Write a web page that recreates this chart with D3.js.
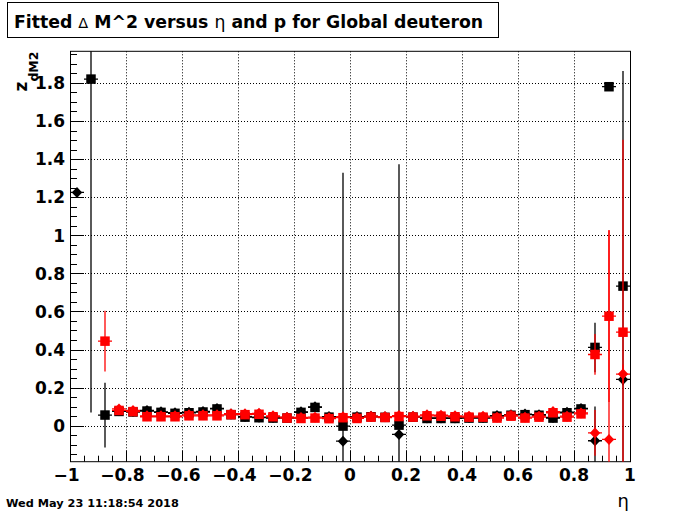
<html>
<head>
<title>Fitted dM2</title>
<script type="text/javascript" src="https://cdn.jsdelivr.net/npm/d3@7"></script>
<style>
  body { margin: 0; background: #fff; }
  text { font-family: "DejaVu Sans", sans-serif; }
</style>
</head>
<body>
<script type="text/javascript">
// eta bin centres (bins of width 0.05 from -1 to 1)
const eta = [-0.975,-0.925,-0.875,-0.825,-0.775,-0.725,-0.675,-0.625,-0.575,-0.525,
             -0.475,-0.425,-0.375,-0.325,-0.275,-0.225,-0.175,-0.125,-0.075,-0.025,
              0.025, 0.075, 0.125, 0.175, 0.225, 0.275, 0.325, 0.375, 0.425, 0.475,
              0.525, 0.575, 0.625, 0.675, 0.725, 0.775, 0.825, 0.875, 0.925, 0.975];
const etaHalfWidth = 0.025;

// black squares
const blackSq = [null,1.82,0.056,0.075,0.072,0.077,0.070,0.065,0.068,0.072,
                 0.088,0.058,0.045,0.042,0.040,0.040,0.070,0.096,0.045,-0.002,
                 0.045,0.047,0.044,0.003,0.045,0.038,0.038,0.038,0.040,0.040,
                 0.050,0.055,0.058,0.055,0.040,0.068,0.088,0.411,1.78,0.733];
const blackSqErr = [0,1.75,0.17,0.005,0.005,0.005,0.005,0.005,0.005,0.005,
                    0.006,0.005,0.005,0.005,0.005,0.005,0.006,0.008,0.006,1.33,
                    0.005,0.005,0.005,1.37,0.005,0.005,0.005,0.005,0.005,0.005,
                    0.005,0.005,0.005,0.005,0.006,0.008,0.022,0.13,0.01,1.13];
// black diamonds
const blackDi = [1.225,null,null,0.078,0.075,0.080,0.073,0.068,0.071,0.075,
                 0.091,0.061,0.048,0.045,0.043,0.043,0.073,0.099,0.048,-0.081,
                 0.048,0.050,0.047,-0.046,0.048,0.041,0.041,0.041,0.043,0.043,
                 0.053,0.058,0.061,0.058,0.043,0.071,0.091,-0.079,null,0.243];
const blackDiErr = [0.01,0,0,0.005,0.005,0.005,0.005,0.005,0.005,0.005,
                    0.005,0.005,0.005,0.005,0.005,0.005,0.005,0.006,0.005,0.02,
                    0.005,0.005,0.005,0.02,0.005,0.005,0.005,0.005,0.005,0.005,
                    0.005,0.005,0.005,0.005,0.005,0.006,0.01,0.18,0,0.03];
// red squares
const redSq = [null,null,0.444,0.080,0.074,0.047,0.047,0.047,0.052,0.052,
               0.052,0.058,0.058,0.060,0.047,0.040,0.038,0.040,0.037,0.042,
               0.038,0.045,0.043,0.048,0.045,0.052,0.050,0.047,0.045,0.045,
               0.040,0.050,0.040,0.045,0.068,0.045,0.062,0.374,0.575,0.491];
const redSqErr = [0,0,0.16,0.008,0.006,0.005,0.005,0.005,0.005,0.005,
                  0.005,0.005,0.005,0.005,0.005,0.005,0.005,0.005,0.005,0.005,
                  0.005,0.005,0.005,0.005,0.005,0.005,0.005,0.005,0.005,0.005,
                  0.005,0.005,0.005,0.005,0.006,0.006,0.008,0.107,0.45,1.01];
// red diamonds
const redDi = [null,null,null,0.088,0.080,0.052,0.052,0.052,0.057,0.057,
               0.057,0.063,0.063,0.065,0.052,0.045,0.043,0.045,0.042,0.047,
               0.043,0.050,0.048,0.053,0.050,0.057,0.055,0.052,0.050,0.050,
               0.045,0.055,0.045,0.050,0.074,0.050,0.067,-0.038,-0.072,0.271];
const redDiErr = [0,0,0,0.006,0.006,0.005,0.005,0.005,0.005,0.005,
                  0.005,0.005,0.005,0.005,0.005,0.005,0.005,0.005,0.005,0.005,
                  0.005,0.005,0.005,0.005,0.005,0.005,0.005,0.005,0.005,0.005,
                  0.005,0.005,0.005,0.005,0.006,0.006,0.008,0.12,1.1,0.05];

const xTicks = [-1,-0.8,-0.6,-0.4,-0.2,0,0.2,0.4,0.6,0.8,1];
const yTicks = [0,0.2,0.4,0.6,0.8,1,1.2,1.4,1.6,1.8];

const W = 700, H = 514;
const frame = {left: 70, right: 630, top: 51.3, bottom: 461.7};

const svg = d3.select("body").append("svg")
  .attr("width", W).attr("height", H);

const x = d3.scaleLinear().domain([-1, 1]).range([frame.left, frame.right]);
const y = d3.scaleLinear().domain([-0.189, 1.966]).range([frame.bottom, frame.top]);

// grid (dotted)
const grid = svg.append("g").attr("stroke", "#000").attr("stroke-width", 1)
  .attr("stroke-dasharray", "1,2");
grid.selectAll(".gx").data(xTicks.slice(1, -1)).join("line")
  .attr("x1", d => Math.round(x(d)) + 0.5).attr("x2", d => Math.round(x(d)) + 0.5)
  .attr("y1", frame.top).attr("y2", frame.bottom);
grid.selectAll(".gy").data(yTicks).join("line")
  .attr("y1", d => Math.round(y(d)) + 0.5).attr("y2", d => Math.round(y(d)) + 0.5)
  .attr("x1", frame.left).attr("x2", frame.right);

// axes with inside ticks
const xMinor = d3.range(-1, 1.0001, 0.05);
const yMinor = d3.range(-0.15, 1.96, 0.05);

const xAxisG = svg.append("g").attr("stroke", "#000");
xAxisG.selectAll("line.minor").data(xMinor).join("line")
  .attr("x1", d => Math.round(x(d)) + 0.5).attr("x2", d => Math.round(x(d)) + 0.5)
  .attr("y1", frame.bottom).attr("y2", frame.bottom - 6);
xAxisG.selectAll("line.major").data(xTicks).join("line")
  .attr("x1", d => Math.round(x(d)) + 0.5).attr("x2", d => Math.round(x(d)) + 0.5)
  .attr("y1", frame.bottom).attr("y2", frame.bottom - 11);

const yAxisG = svg.append("g").attr("stroke", "#000");
yAxisG.selectAll("line.minor").data(yMinor).join("line")
  .attr("y1", d => Math.round(y(d)) + 0.5).attr("y2", d => Math.round(y(d)) + 0.5)
  .attr("x1", frame.left).attr("x2", frame.left + 7);
yAxisG.selectAll("line.major").data(yTicks).join("line")
  .attr("y1", d => Math.round(y(d)) + 0.5).attr("y2", d => Math.round(y(d)) + 0.5)
  .attr("x1", frame.left).attr("x2", frame.left + 14);

// tick labels
const fmt = d => (d < 0 ? "\u2212" : "") + String(Math.abs(d));
svg.append("g").selectAll("text").data(xTicks).join("text")
  .attr("x", d => x(d) + (d < 0 ? -3.5 : 0))
  .attr("y", 481)
  .attr("text-anchor", "middle")
  .attr("font-size", 17).attr("font-weight", "bold")
  .text(fmt);
svg.append("g").selectAll("text").data(yTicks).join("text")
  .attr("x", 65)
  .attr("y", d => y(d) + 6.3)
  .attr("text-anchor", "end")
  .attr("font-size", 17).attr("font-weight", "bold")
  .text(fmt);

// frame
svg.append("rect")
  .attr("x", frame.left + 0.5).attr("y", frame.top)
  .attr("width", frame.right - frame.left).attr("height", frame.bottom - frame.top)
  .attr("fill", "none").attr("stroke", "#000");

// clip for data
svg.append("clipPath").attr("id", "clip").append("rect")
  .attr("x", frame.left).attr("y", frame.top)
  .attr("width", frame.right - frame.left).attr("height", frame.bottom - frame.top);
const plot = svg.append("g").attr("clip-path", "url(#clip)");

function drawSeries(vals, errs, color, shape) {
  const pts = eta.map((e, i) => ({e: e, v: vals[i], err: errs[i]})).filter(p => p.v !== null);
  const g = plot.append("g");
  g.selectAll("line.ey").data(pts).join("line")
    .attr("x1", p => x(p.e)).attr("x2", p => x(p.e))
    .attr("y1", p => y(p.v - p.err)).attr("y2", p => y(p.v + p.err))
    .attr("stroke", color).attr("stroke-width", 1.3);
  g.selectAll("line.ex").data(pts).join("line")
    .attr("x1", p => x(p.e - etaHalfWidth)).attr("x2", p => x(p.e + etaHalfWidth))
    .attr("y1", p => y(p.v)).attr("y2", p => y(p.v))
    .attr("stroke", color).attr("stroke-width", 1.3);
  if (shape === "square") {
    g.selectAll("rect").data(pts).join("rect")
      .attr("x", p => x(p.e) - 4.75).attr("y", p => y(p.v) - 4.75)
      .attr("width", 9.5).attr("height", 9.5)
      .attr("fill", color);
  } else {
    g.selectAll("path").data(pts).join("path")
      .attr("d", p => {
        const cx = x(p.e), cy = y(p.v);
        return `M${cx},${cy - 5.5}L${cx + 5.2},${cy}L${cx},${cy + 5.5}L${cx - 5.2},${cy}Z`;
      })
      .attr("fill", color);
  }
}
drawSeries(blackSq, blackSqErr, "#000", "square");
drawSeries(blackDi, blackDiErr, "#000", "diamond");
drawSeries(redSq, redSqErr, "#ff0000", "square");
drawSeries(redDi, redDiErr, "#ff0000", "diamond");

// y axis title z_{dM2}
const yt = svg.append("text")
  .attr("transform", "translate(27,51.5) rotate(-90)")
  .attr("text-anchor", "end").attr("font-weight", "bold");
yt.append("tspan").attr("font-size", 17).text("z");
yt.append("tspan").attr("font-size", 12.5).attr("dy", 10.5).text("dM2");

// x axis title
svg.append("text").attr("x", 629).attr("y", 507)
  .attr("text-anchor", "end").attr("font-size", 18).text("\u03b7");

// title box
svg.append("rect").attr("x", 7.5).attr("y", 2.5).attr("width", 491).attr("height", 35)
  .attr("fill", "#fff").attr("stroke", "#000");
const title = svg.append("text").attr("x", 14).attr("y", 27.5)
  .attr("font-size", 17.3).attr("font-weight", "bold");
title.append("tspan").text("Fitted ");
title.append("tspan").attr("font-weight", "normal").attr("font-size", 14.5).text("\u0394");
title.append("tspan").text(" M^2 versus ");
title.append("tspan").attr("font-weight", "normal").text("\u03b7");
title.append("tspan").text(" and p for Global deuteron");

// date stamp
svg.append("text").attr("x", 6).attr("y", 507)
  .attr("font-size", 11.3).attr("font-weight", "bold")
  .text("Wed May 23 11:18:54 2018");
</script>
</body>
</html>
